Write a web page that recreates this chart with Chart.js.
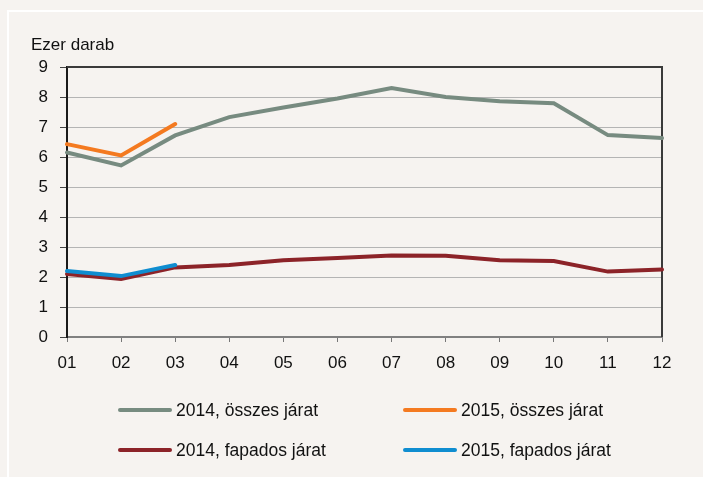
<!DOCTYPE html>
<html>
<head>
<meta charset="utf-8">
<script src="https://cdn.jsdelivr.net/npm/chart.js@4"></script>
<style>
  html, body { margin: 0; padding: 0; background: #f6f3f0; }
  #wrap { position: relative; width: 703px; height: 477px; overflow: hidden; }
  #frame { position: absolute; left: 7px; top: 10px; right: -5px; bottom: -5px;
           border-top: 2px solid #ffffff; border-left: 2px solid #ffffff; }
  canvas { position: absolute; left: 0; top: 0; }
  .leg { position: absolute; font-family: "Liberation Sans", Arial, sans-serif;
         font-size: 17.5px; color: #111; white-space: nowrap; line-height: 20px; }
  .leg span.sw { display: inline-block; width: 54px; height: 4px; border-radius: 2px;
                 vertical-align: middle; margin-right: 4px; position: relative; top: -1px; }
</style>
</head>
<body>
<div id="wrap">
  <div id="frame"></div>
  <canvas id="chart" width="703" height="477"></canvas>
  <div id="legend"></div>
</div>
<script>
// Adatok
const months = ['01','02','03','04','05','06','07','08','09','10','11','12'];
const osszes2014 = [6.15, 5.72, 6.72, 7.33, 7.65, 7.95, 8.3, 8.0, 7.86, 7.79, 6.73, 6.63];
const osszes2015 = [6.43, 6.05, 7.1];
const fapados2014 = [2.1, 1.93, 2.32, 2.4, 2.56, 2.63, 2.72, 2.71, 2.56, 2.53, 2.18, 2.25];
const fapados2015 = [2.2, 2.03, 2.4];
const yTicks = [0, 1, 2, 3, 4, 5, 6, 7, 8, 9];

const seriesLabels = ['2014, összes járat', '2015, összes járat', '2014, fapados járat', '2015, fapados járat'];
const seriesColors = ['#778b80', '#f47a20', '#8c2328', '#0f8dd0'];
const seriesData = [osszes2014, osszes2015, fapados2014, fapados2015];

const FONT = '"Liberation Sans", Arial, sans-serif';

// Keret a rajzterület körül (felső és jobb oldal)
const borderPlugin = {
    id: 'plotBorder',
    beforeDatasetsDraw(chart) {
        const a = chart.chartArea;
        const ctx = chart.ctx;
        ctx.save();
        ctx.strokeStyle = '#3a3a3a';
        ctx.lineWidth = 2;
        ctx.beginPath();
        ctx.moveTo(a.left, a.top);
        ctx.lineTo(a.right, a.top);
        ctx.lineTo(a.right, a.bottom);
        ctx.stroke();
        ctx.restore();
    }
};

// Y tengely felirat
const titlePlugin = {
    id: 'yTitle',
    afterDraw(chart) {
        const ctx = chart.ctx;
        ctx.save();
        ctx.font = '17px ' + FONT;
        ctx.fillStyle = '#111';
        ctx.textBaseline = 'alphabetic';
        ctx.fillText('Ezer darab', 31, 50);
        ctx.restore();
    }
};

const datasets = seriesData.map((d, i) => ({
    label: seriesLabels[i],
    data: d,
    borderColor: seriesColors[i],
    backgroundColor: seriesColors[i],
    borderWidth: 4,
    pointRadius: 0,
    tension: 0,
    borderCapStyle: 'round',
    borderJoinStyle: 'miter'
}));
// 2014 vonalak alul, 2015 vonalak felül
datasets[0].order = 4;
datasets[2].order = 3;
datasets[1].order = 2;
datasets[3].order = 1;

new Chart(document.getElementById('chart'), {
    type: 'line',
    data: { labels: months, datasets: datasets },
    options: {
        responsive: false,
        animation: false,
        devicePixelRatio: 1,
        layout: { padding: { left: 0, top: 67, right: 41, bottom: 0 } },
        plugins: {
            legend: { display: false },
            tooltip: { enabled: false }
        },
        scales: {
            x: {
                offset: false,
                afterFit(scale) { scale.height = 140; },
                grid: {
                    display: true,
                    drawOnChartArea: false,
                    drawTicks: true,
                    tickLength: 5,
                    tickColor: '#777',
                    lineWidth: 1
                },
                border: { display: true, color: '#808080', width: 2 },
                ticks: {
                    color: '#111',
                    font: { family: FONT, size: 17 },
                    padding: 11,
                    maxRotation: 0,
                    autoSkip: false
                }
            },
            y: {
                min: 0,
                max: 9,
                afterFit(scale) { scale.width = 67; },
                afterBuildTicks(scale) { scale.ticks = yTicks.map(v => ({ value: v })); },
                grid: {
                    color: '#b4b4b4',
                    lineWidth: 1,
                    drawTicks: true,
                    tickLength: 7,
                    tickColor: '#444'
                },
                border: { display: true, color: '#1a1a1a', width: 2 },
                ticks: {
                    color: '#111',
                    font: { family: FONT, size: 17 },
                    padding: 12
                }
            }
        }
    },
    plugins: [borderPlugin, titlePlugin]
});

// Jelmagyarázat (2 oszlop)
const legendPos = [
    { left: 118, top: 400 },
    { left: 403, top: 400 },
    { left: 118, top: 440 },
    { left: 403, top: 440 }
];
const legendEl = document.getElementById('legend');
seriesLabels.forEach((lbl, i) => {
    const div = document.createElement('div');
    div.className = 'leg';
    div.style.left = legendPos[i].left + 'px';
    div.style.top = legendPos[i].top + 'px';
    div.innerHTML = '<span class="sw" style="background:' + seriesColors[i] + '"></span>' + lbl;
    legendEl.appendChild(div);
});
</script>
</body>
</html>
